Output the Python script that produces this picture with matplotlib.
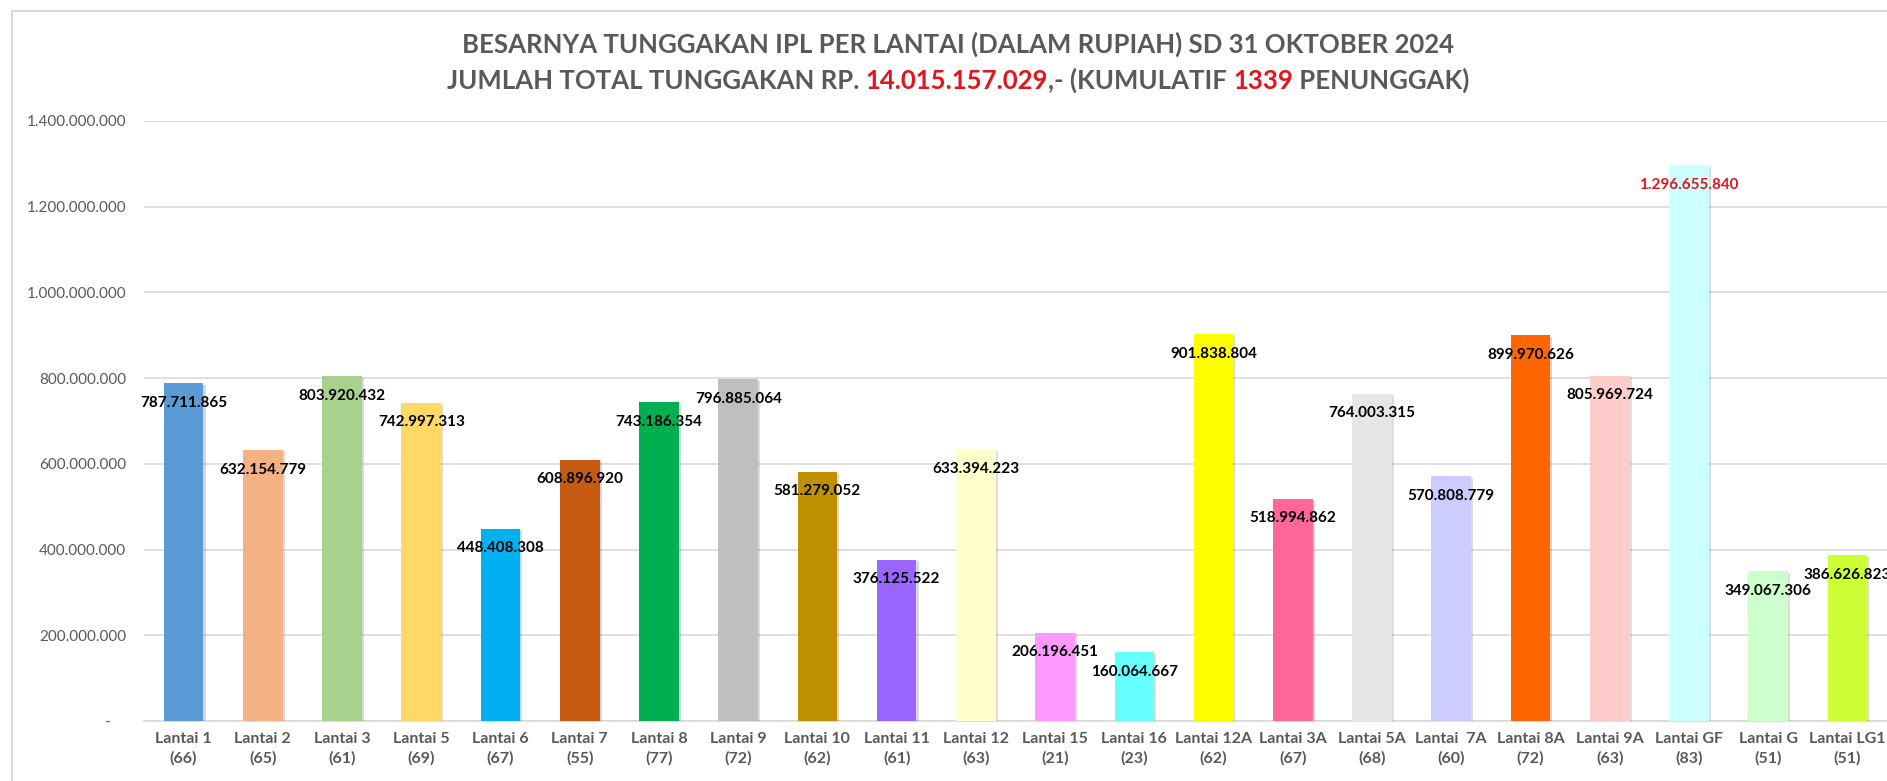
import matplotlib
matplotlib.use("Agg")
import matplotlib.pyplot as plt
import matplotlib.patheffects as pe
from matplotlib.patches import Rectangle
import numpy as np

floors = ["Lantai 1", "Lantai 2", "Lantai 3", "Lantai 5", "Lantai 6", "Lantai 7",
          "Lantai 8", "Lantai 9", "Lantai 10", "Lantai 11", "Lantai 12", "Lantai 15",
          "Lantai 16", "Lantai 12A", "Lantai 3A", "Lantai 5A", "Lantai  7A", "Lantai 8A",
          "Lantai 9A", "Lantai GF", "Lantai G", "Lantai LG1"]
debtors = [66, 65, 61, 69, 67, 55, 77, 72, 62, 61, 63, 21, 23, 62, 67, 68, 60, 72,
           63, 83, 51, 51]
arrears = [787711865, 632154779, 803920432, 742997313, 448408308, 608896920,
           743186354, 796885064, 581279052, 376125522, 633394223, 206196451,
           160064667, 901838804, 518994862, 764003315, 570808779, 899970626,
           805969724, 1296655840, 349067306, 386626823]
bar_colors = ["#5B9BD5", "#F4B183", "#A9D18E", "#FFD966", "#00B0F0", "#C55A11",
              "#00B050", "#BFBFBF", "#BF9000", "#9966FF", "#FFFFCC", "#FF99FF",
              "#66FFFF", "#FFFF00", "#FF6699", "#E7E6E6", "#CCCCFF", "#FF6600",
              "#FFCCCC", "#CCFFFF", "#CCFFCC", "#CCFF33"]
yticks = [0, 200e6, 400e6, 600e6, 800e6, 1000e6, 1200e6, 1400e6]

title1 = "BESARNYA TUNGGAKAN IPL PER LANTAI (DALAM RUPIAH) SD 31 OKTOBER 2024"
title2 = [("JUMLAH TOTAL TUNGGAKAN RP. ", "gray"), ("14.015.157.029", "red"),
          (",- (KUMULATIF ", "gray"), ("1339", "red"), (" PENUNGGAK)", "gray")]

GRAY = "#595959"
RED = "#E3141C"
W, H = 1887, 781
TITLE_CX = 958  # title centre, px from left


def dotted(v):
    return f"{v:,}".replace(",", ".")


def rich_line(fig, y, parts, **kw):
    renderer = fig.canvas.get_renderer()
    texts = []
    for s, c in parts:
        t = fig.text(0, y, s, color=GRAY if c == "gray" else RED, va="center", **kw)
        texts.append(t)
    widths = [t.get_window_extent(renderer).width for t in texts]
    x = TITLE_CX - sum(widths) / 2
    for t, w in zip(texts, widths):
        t.set_x(x / W)
        x += w


fig = plt.figure(figsize=(W / 100, H / 100), dpi=100)
ax = fig.add_axes([144 / W, 60 / H, 1743 / W, 600 / H])

x = np.arange(len(floors))
bars = ax.bar(x, arrears, width=0.5, color=bar_colors, zorder=3)
for b in bars:
    b.set_path_effects([pe.SimplePatchShadow(offset=(1.5, -1), alpha=0.18), pe.Normal()])

for xi, v in zip(x, arrears):
    col = RED if v == max(arrears) else "black"
    ax.annotate(dotted(v), (xi, v), xytext=(0, -14), textcoords="offset points",
                ha="center", va="center", fontsize=11, fontweight="bold",
                family="Lato", color=col, zorder=4)

ax.set_xlim(-0.5, len(floors) - 0.5)
ax.set_ylim(0, 1400e6)
ax.set_yticks(yticks)
ax.set_yticklabels(["-    "] + [dotted(int(t)) for t in yticks[1:]])
ax.set_xticks(x)
ax.set_xticklabels([f"{f}\n({d})" for f, d in zip(floors, debtors)], linespacing=1.4)

ax.tick_params(axis="x", length=0, pad=8, labelsize=11.5, labelcolor=GRAY)
ax.tick_params(axis="y", length=0, pad=13, labelsize=11, labelcolor=GRAY)
for lab in ax.get_xticklabels():
    lab.set_fontweight("bold")
    lab.set_family("Lato")
for lab in ax.get_yticklabels():
    lab.set_family("Lato")

ax.grid(axis="y", color="#D9D9D9", lw=1.2, zorder=0)
for s in ["top", "right", "left"]:
    ax.spines[s].set_visible(False)
ax.spines["bottom"].set_color("#D9D9D9")
ax.spines["bottom"].set_linewidth(1.2)
ax.spines["bottom"].set_zorder(2)

# chart area border
fig.add_artist(Rectangle((12 / W, -0.1), 1.2, (H - 11) / H + 0.1, transform=fig.transFigure,
                         fill=False, edgecolor="#D9D9D9", lw=1.5))

fig.text(TITLE_CX / W, 1 - 44.5 / H, title1, ha="center", va="center", fontsize=18.5,
         fontweight="bold", family="Lato", color=GRAY)
rich_line(fig, 1 - 80.6 / H, title2, fontsize=18.5, fontweight="bold", family="Lato")

fig.savefig("out.png", dpi=100)
